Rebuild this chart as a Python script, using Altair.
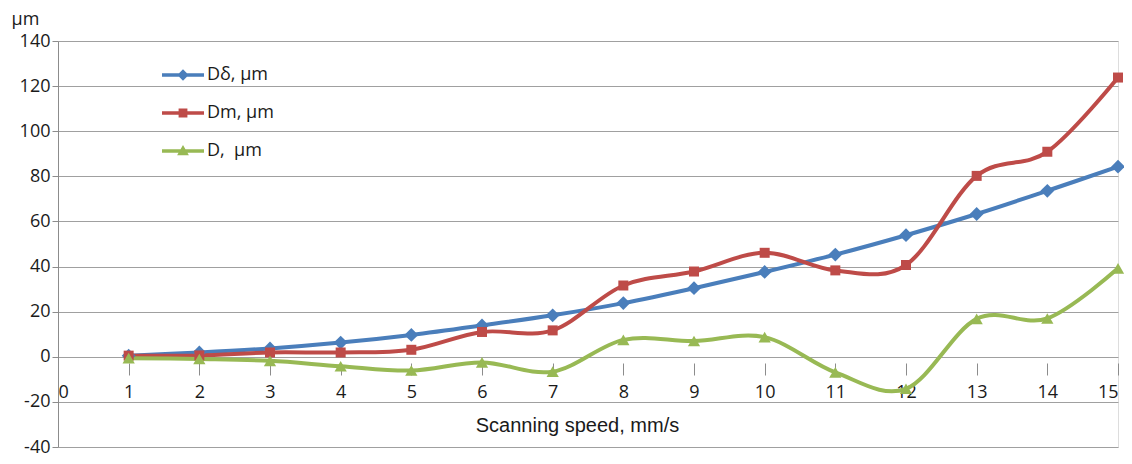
import altair as alt
import pandas as pd

speed = list(range(1, 16))
d_delta = [0.5, 1.9, 3.7, 6.3, 9.7, 13.9, 18.4, 23.8, 30.4, 37.6, 45.3, 53.9, 63.3, 73.6, 84.3]
d_m = [0.5, 0.6, 1.9, 1.9, 3.1, 11.0, 11.7, 31.6, 37.8, 46.1, 38.3, 40.7, 80.2, 90.9, 123.8]
d_plain = [-0.6, -1.0, -1.8, -4.2, -6.1, -2.5, -6.6, 7.5, 7.0, 8.7, -6.9, -14.2, 16.8, 17.0, 39.2]

series_names = ["Dδ, μm", "Dm, μm", "D,\u00a0 μm"]
series_colors = ["#4A7EBB", "#BE4B48", "#98B954"]
series_shapes = ["diamond", "square", "triangle-up"]
series_sizes = [190, 100, 150]

rows = []
for name, vals, mk, sz, col in zip(series_names, [d_delta, d_m, d_plain], series_shapes, series_sizes, series_colors):
    for s, v in zip(speed, vals):
        rows.append({"speed": s, "value": v, "series": name, "mk": mk, "sz": sz, "col": col})
df = pd.DataFrame(rows)

FONT = "Open Sans"
LINE = "M-1,-0.085H1V0.085H-1Z"
legend_paths = [
    LINE + " M0,-0.27L0.27,0L0,0.27L-0.27,0Z",
    LINE + " M-0.21,-0.21H0.21V0.21H-0.21Z",
    LINE + " M0,-0.28L0.28,0.2L-0.28,0.2Z",
]
sym_expr = (
    f"datum.value === '{series_names[0]}' ? '{legend_paths[0]}' : "
    f"datum.value === '{series_names[1]}' ? '{legend_paths[1]}' : "
    f"'{legend_paths[2]}'"
)

color_scale = alt.Scale(domain=series_names, range=series_colors)

x_enc = alt.X(
    "speed:Q",
    scale=alt.Scale(domain=[0, 15], nice=False),
    axis=alt.Axis(
        values=list(range(0, 16)),
        format="d",
        grid=False,
        domain=False,
        offset=-84,
        tickSize=12,
        tickColor="#8c8c8c",
        tickWidth=1,
        labelFont=FONT,
        labelFontSize=18,
        labelColor="#1a1a1a",
        labelPadding=8,
        title="Scanning speed, mm/s",
        titleFont="Liberation Sans",
        titleFontSize=20,
        titleFontWeight="normal",
        titleColor="#1a1a1a",
        titlePadding=14,
        titleX=519,
    ),
)
y_enc = alt.Y(
    "value:Q",
    scale=alt.Scale(domain=[-40, 140], nice=False),
    axis=alt.Axis(
        values=list(range(-40, 141, 20)),
        labelExpr="'' + datum.value",
        grid=True,
        gridColor="#a0a0a0",
        gridWidth=1,
        domainColor="#8c8c8c",
        tickColor="#8c8c8c",
        tickSize=6,
        labelFont=FONT,
        labelFontSize=18,
        labelColor="#1a1a1a",
        labelPadding=2,
        title="μm",
        titleAngle=0,
        titleAlign="left",
        titleBaseline="middle",
        titleX=-47,
        titleY=-22,
        titleFont=FONT,
        titleFontSize=18,
        titleFontWeight="normal",
        titleColor="#1a1a1a",
    ),
)

lines = alt.Chart(df).mark_line(interpolate="cardinal", strokeWidth=4).encode(
    x=x_enc,
    y=y_enc,
    stroke=alt.Stroke("col:N", scale=None),
    detail="series:N",
)

points = alt.Chart(df).mark_point(filled=True, opacity=1).encode(
    x="speed:Q",
    y="value:Q",
    color=alt.Color(
        "series:N",
        scale=color_scale,
        legend=alt.Legend(
            orient="none",
            legendX=104,
            legendY=13,
            title=None,
            padding=0,
            symbolType=alt.ExprRef(expr=sym_expr),
            symbolSize=1764,
            symbolStrokeWidth=0,
            symbolOpacity=1,
            labelFont=FONT,
            labelFontSize=18,
            labelColor="#1a1a1a",
            labelOffset=3,
            rowPadding=8,
        ),
    ),
    shape=alt.Shape("mk:N", scale=None),
    size=alt.Size("sz:Q", scale=None),
)

chart = (
    alt.layer(lines, points)
    .properties(
        width=1060,
        height=406,
        autosize=alt.AutoSizeParams(type="none"),
        padding={"left": 50, "top": 33, "right": 6, "bottom": 9},
    )
    .configure_view(stroke="#d4d4d4", strokeWidth=1)
    .configure(background="white")
)

chart.save("out.html", embed_options={"renderer": "svg", "actions": False})
